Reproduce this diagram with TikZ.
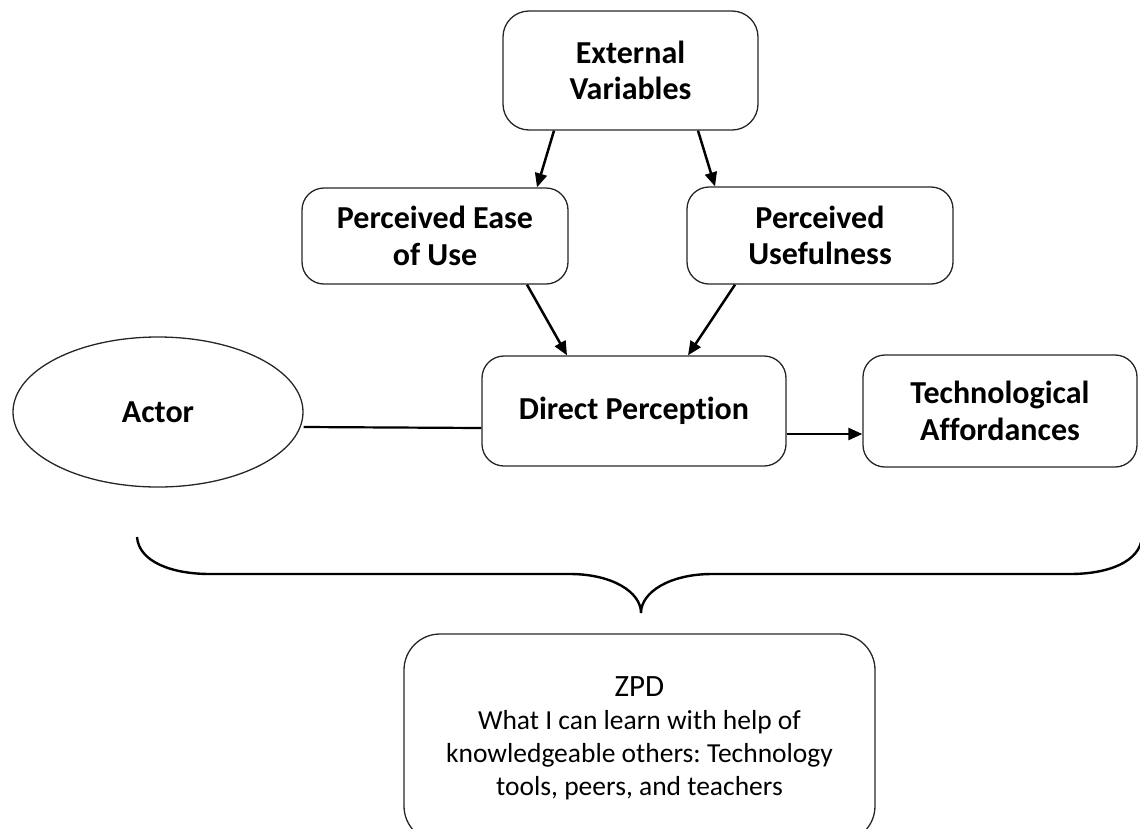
\documentclass[tikz,border=0pt]{standalone}
\usepackage{fontspec}
\setmainfont{Carlito}[Ligatures=NoCommon]
\frenchspacing
\usetikzlibrary{arrows.meta,calc,shapes.geometric}
\tikzset{
  boxbold/.style={draw=black!85, line width=1.3pt, rounded corners=22pt, align=center,
    font=\bfseries\fontsize{32}{36.5}\selectfont, inner sep=0pt},
  arr/.style={line width=2.5pt, -{Triangle[length=14pt,width=12pt]}},
  plain/.style={line width=2.2pt},
}
\begin{document}
\begin{tikzpicture}[x=1pt,y=-1pt]
\useasboundingbox (0,0) rectangle (1140,828);
\node[boxbold, minimum width=255pt, minimum height=119pt, rounded corners=26pt] (EV) at (630.5,70.5) {External\\Variables};
\node[boxbold, minimum width=266pt, minimum height=96pt] (PEU) at (435,236) {Perceived Ease\\of Use};
\node[boxbold, minimum width=266pt, minimum height=97pt] (PU) at (820,235.5) {Perceived\\Usefulness};
\node[boxbold, minimum width=304pt, minimum height=110pt] (DP) at (634,411) {Direct Perception};
\node[boxbold, minimum width=274pt, minimum height=112pt] (TA) at (1000,411) {Technological\\Affordances};
\node[draw=black!85, line width=1.3pt, ellipse, minimum width=290pt, minimum height=150pt,
      font=\bfseries\fontsize{32}{36.5}\selectfont, inner sep=0pt] (AC) at (158,412) {Actor};
\node[draw=black!85, line width=1.3pt, rounded corners=36pt, minimum width=471pt, minimum height=208pt,
      align=center, font=\fontsize{27.5}{33}\selectfont, inner sep=0pt] (ZPD) at (639.5,738)
  {{\fontsize{31}{33}\selectfont ZPD}\\What I can learn with help of\\knowledgeable others: Technology\\tools, peers, and teachers};

\draw[arr] ([xshift=-76.5pt]EV.south) -- ([xshift=102pt]PEU.north);
\draw[arr] ([xshift=67.5pt]EV.south) -- ([xshift=-105pt]PU.north);
\draw[arr] ([xshift=92pt]PEU.south) -- ([xshift=-67pt]DP.north);
\draw[arr] ([xshift=-85pt]PU.south) -- ([xshift=54pt]DP.north);
\draw[arr] ([yshift=-23pt]DP.east) -- ([yshift=-23pt]TA.west);
\draw[plain] ([yshift=-15pt]AC.east) -- ([yshift=-17pt]DP.west);

\coordinate (BL) at (137,537);
\coordinate (BT) at (641,613);
\coordinate (BR) at (1142,537);
\draw[line width=2.4pt]
  (BL) .. controls (139,562) and (172,574) .. (210,574) -- (570,574)
  .. controls (612,574) and (641,592) .. (BT)
  .. controls (641,592) and (670,574) .. (712,574) -- (1070,574)
  .. controls (1108,574) and (1140,562) .. (BR);
\end{tikzpicture}
\end{document}
